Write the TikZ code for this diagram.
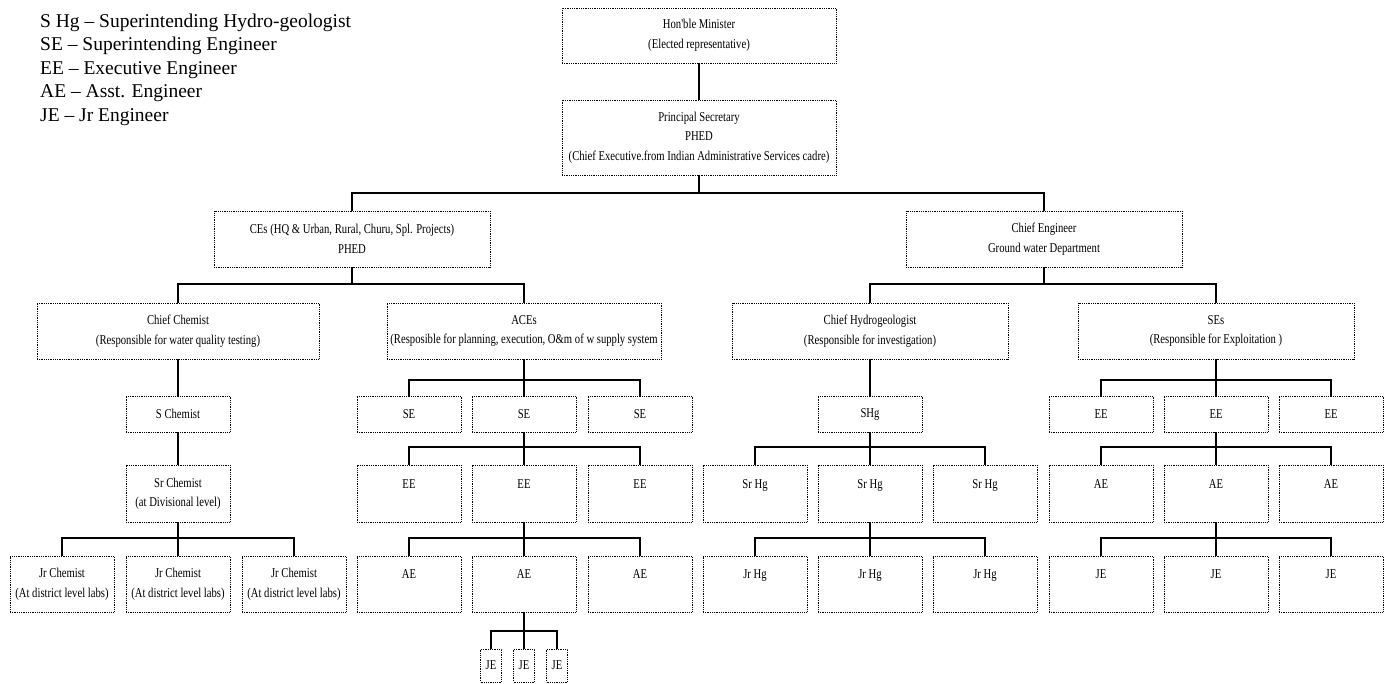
\documentclass[tikz,border=0pt]{standalone}
\usepackage{fontspec}
\setmainfont{Liberation Serif}
\newfontfamily\boxfont[FakeStretch=0.79]{Liberation Serif}
\newcommand\myfan[5]{%
  \draw[conn] (#1.south) -- (#1.south |- #2);
  \draw[conn] (#3.north) |- (#5.north |- #2) -- (#5.north);
  \draw[conn] (#4.north) -- (#4.north |- #2);}
\begin{document}
\begin{tikzpicture}[x=1pt,y=-1pt,
  box/.style={draw, densely dotted, line width=0.8pt, inner sep=0pt, align=center,
    font=\boxfont\fontsize{13.5}{19.5}\selectfont},
  wide/.style={box, minimum width=276pt, minimum height=56pt},
  small/.style={box, minimum width=104pt, minimum height=36pt},
  tall/.style={box, minimum width=104pt, minimum height=57pt},
  tiny/.style={box, minimum width=21pt, minimum height=33pt},
  legend/.style={anchor=base west, inner sep=0pt, font=\fontsize{19.5}{23.6}\selectfont},
  conn/.style={line width=1.4pt, line join=miter}]
\useasboundingbox (0,0) rectangle (1388,683);

% legend
\node[legend] (l1) at (40,27)    {S Hg -- Superintending Hydro-geologist};
\node[legend] (l2) at (40,50.6)  {SE -- Superintending Engineer};
\node[legend] (l3) at (40,74.2)  {EE -- Executive Engineer};
\node[legend] (l4) at (40,97.8)  {AE -- Asst. Engineer};
\node[legend] (l5) at (40,121.4) {JE -- Jr Engineer};

% top
\node[box, minimum width=274pt, minimum height=55pt] (min) at (699,35.5)
  {Hon'ble Minister\\(Elected representative)};
\node[box, minimum width=274pt, minimum height=75pt] (ps) at (699,137.5)
  {Principal Secretary\\PHED\\(Chief Executive.from Indian Administrative Services cadre)};
\node[wide] (ces) at (352,239) {CEs (HQ \& Urban, Rural, Churu, Spl. Projects)\\PHED};
\node[wide] (ce) at (1044,239) {Chief Engineer\\Ground water Department};

% level 3
\node[wide, minimum width=282pt] (cc) at (178,331) {Chief Chemist\\(Responsible for water quality testing)};
\node[wide, minimum width=274pt] (aces) at (524,331) {ACEs\\(Resposible for planning, execution, O\&m of w supply system};
\node[wide] (chy) at (870,331) {Chief Hydrogeologist\\(Responsible for investigation)};
\node[wide] (ses) at (1216,331) {SEs\\(Responsible for Exploitation )};

% level 4
\node[small] (sc) at (178,414) {S Chemist};
\node[small] (se1) at (409,414) {SE};
\node[small] (se2) at (524,414) {SE};
\node[small] (se3) at (640,414) {SE};
\node[small] (shg) at (870,414) {SHg};
\node[small] (ree1) at (1101,414) {EE};
\node[small] (ree2) at (1216,414) {EE};
\node[small] (ree3) at (1331,414) {EE};

% level 5
\node[tall] (src) at (178,493.5) {Sr Chemist\\(at Divisional level)};
\node[tall] (ee1) at (409,493.5) {EE\\\phantom{E}};
\node[tall] (ee2) at (524,493.5) {EE\\\phantom{E}};
\node[tall] (ee3) at (640,493.5) {EE\\\phantom{E}};
\node[tall] (shg1) at (755,493.5) {Sr Hg\\\phantom{E}};
\node[tall] (shg2) at (870,493.5) {Sr Hg\\\phantom{E}};
\node[tall] (shg3) at (985,493.5) {Sr Hg\\\phantom{E}};
\node[tall] (rae1) at (1101,493.5) {AE\\\phantom{E}};
\node[tall] (rae2) at (1216,493.5) {AE\\\phantom{E}};
\node[tall] (rae3) at (1331,493.5) {AE\\\phantom{E}};

% level 6
\node[tall, minimum height=56pt] (jc1) at (62,584) {Jr Chemist\\(At district level labs)};
\node[tall, minimum height=56pt] (jc2) at (178,584) {Jr Chemist\\(At district level labs)};
\node[tall, minimum height=56pt] (jc3) at (294,584) {Jr Chemist\\(At district level labs)};
\node[tall, minimum height=56pt] (ae1) at (409,584) {AE\\\phantom{E}};
\node[tall, minimum height=56pt] (ae2) at (524,584) {AE\\\phantom{E}};
\node[tall, minimum height=56pt] (ae3) at (640,584) {AE\\\phantom{E}};
\node[tall, minimum height=56pt] (jhg1) at (755,584) {Jr Hg\\\phantom{E}};
\node[tall, minimum height=56pt] (jhg2) at (870,584) {Jr Hg\\\phantom{E}};
\node[tall, minimum height=56pt] (jhg3) at (985,584) {Jr Hg\\\phantom{E}};
\node[tall, minimum height=56pt] (rje1) at (1101,584) {JE\\\phantom{E}};
\node[tall, minimum height=56pt] (rje2) at (1216,584) {JE\\\phantom{E}};
\node[tall, minimum height=56pt] (rje3) at (1331,584) {JE\\\phantom{E}};

% level 7
\node[tiny] (je1) at (491,665.5) {JE};
\node[tiny] (je2) at (524,665.5) {JE};
\node[tiny] (je3) at (557,665.5) {JE};

% connectors
\coordinate (h1) at (0,193);
\coordinate (h2) at (0,284);
\coordinate (h3) at (0,380);
\coordinate (h4) at (0,447);
\coordinate (h5) at (0,538);
\coordinate (h6) at (0,631);

\draw[conn] (min.south) -- (ps.north);
\draw[conn] (ps.south) -- (ps.south |- h1);
\draw[conn] (ces.north) |- (ce.north |- h1) -- (ce.north);

\draw[conn] (ces.south) -- (ces.south |- h2);
\draw[conn] (cc.north) |- (aces.north |- h2) -- (aces.north);
\draw[conn] (ce.south) -- (ce.south |- h2);
\draw[conn] (chy.north) |- (ses.north |- h2) -- (ses.north);

\draw[conn] (cc.south) -- (sc.north);
\draw[conn] (sc.south) -- (src.north);
\myfan{src}{h5}{jc1}{jc2}{jc3}

\myfan{aces}{h3}{se1}{se2}{se3}
\myfan{se2}{h4}{ee1}{ee2}{ee3}
\myfan{ee2}{h5}{ae1}{ae2}{ae3}
\myfan{ae2}{h6}{je1}{je2}{je3}

\draw[conn] (chy.south) -- (shg.north);
\myfan{shg}{h4}{shg1}{shg2}{shg3}
\myfan{shg2}{h5}{jhg1}{jhg2}{jhg3}

\myfan{ses}{h3}{ree1}{ree2}{ree3}
\myfan{ree2}{h4}{rae1}{rae2}{rae3}
\myfan{rae2}{h5}{rje1}{rje2}{rje3}
\end{tikzpicture}
\end{document}
